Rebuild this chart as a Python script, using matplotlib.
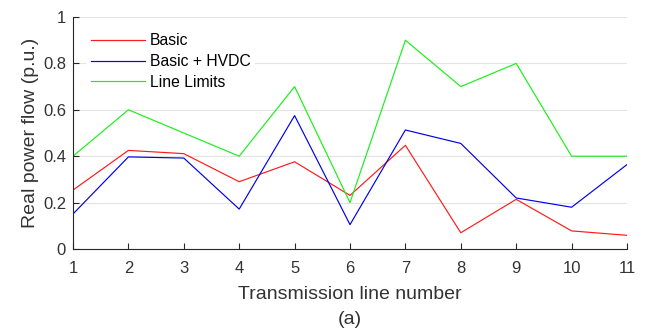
import matplotlib
matplotlib.use("Agg")
import matplotlib.pyplot as plt

lines = [1, 2, 3, 4, 5, 6, 7, 8, 9, 10, 11]
basic = [0.254, 0.425, 0.411, 0.290, 0.376, 0.231, 0.447, 0.070, 0.214, 0.078, 0.059]
basic_hvdc = [0.151, 0.397, 0.392, 0.172, 0.575, 0.105, 0.513, 0.455, 0.220, 0.180, 0.364]
line_limits = [0.4, 0.6, 0.5, 0.4, 0.7, 0.2, 0.9, 0.7, 0.8, 0.4, 0.4]
y_ticks = [0, 0.2, 0.4, 0.6, 0.8, 1]
y_tick_labels = ["0", "0.2", "0.4", "0.6", "0.8", "1"]

plt.rcParams["font.family"] = ["Liberation Sans", "DejaVu Sans"]
ink = "#333333"

W, H = 651, 329
fig = plt.figure(figsize=(W / 100, H / 100), dpi=100)
left, right, top, bottom = 73, 627, 17, 249
ax = fig.add_axes([left / W, 1 - bottom / H, (right - left) / W, (bottom - top) / H])

ax.plot(lines, basic, color="#ff1a1a", lw=0.85, label="Basic")
ax.plot(lines, basic_hvdc, color="#0000ee", lw=0.85, label="Basic + HVDC")
ax.plot(lines, line_limits, color="#19f019", lw=0.85, label="Line Limits")

ax.set_xlim(1, 11)
ax.set_ylim(0, 1)
ax.set_xticks(lines)
ax.set_yticks(y_ticks)
ax.set_yticklabels(y_tick_labels)
ax.yaxis.grid(True, color="#e3e3e3", lw=0.8)
ax.set_axisbelow(True)
for s in ("top", "right"):
    ax.spines[s].set_visible(False)
for s in ("left", "bottom"):
    ax.spines[s].set_color("#262626")
    ax.spines[s].set_linewidth(0.8)
ax.tick_params(direction="in", length=4, width=0.8, colors="#262626", labelcolor=ink,
               labelsize=12)
ax.tick_params(axis="x", pad=8.5)
ax.tick_params(axis="y", pad=5)

ax.set_xlabel("Transmission line number", fontsize=14, color=ink, labelpad=7)
ax.set_ylabel("Real power flow (p.u.)", fontsize=14, color=ink, labelpad=2.5)
fig.text((left + right) / 2 / W, 1 - 319 / H, "(a)", ha="center", va="center", fontsize=14, color=ink)

leg = ax.legend(loc="upper left", bbox_to_anchor=(0.0096, 0.983), frameon=True, fontsize=11.3,
                handlelength=3.45, handletextpad=0.3, labelspacing=0.36, borderpad=0.3)
leg.get_frame().set_edgecolor("none")
leg.get_frame().set_facecolor("white")
leg.get_frame().set_alpha(1)
for t in leg.get_texts():
    t.set_color("black")

fig.savefig("out.png", dpi=100)
